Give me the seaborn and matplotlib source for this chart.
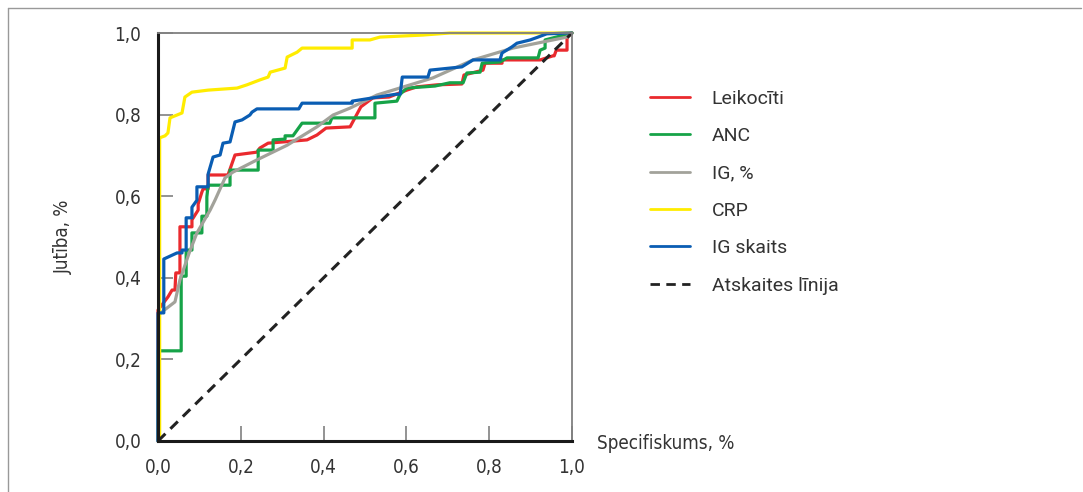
import pandas as pd
import seaborn as sns
import matplotlib.pyplot as plt
from matplotlib.lines import Line2D
from matplotlib import font_manager

# ROC curves (x = specificity axis, y = sensitivity)
leik_x = [0, 0, 0.024, 0.034, 0.041, 0.043, 0.053, 0.053, 0.082, 0.082, 0.097, 0.097, 0.106, 0.109, 0.121, 0.121,
          0.169, 0.186, 0.239, 0.246, 0.266, 0.302, 0.360, 0.384, 0.406, 0.464, 0.490, 0.519, 0.558, 0.601, 0.625,
          0.674, 0.734, 0.739, 0.785, 0.790, 0.831, 0.831, 0.923, 0.954, 0.957, 0.962, 0.988, 0.988, 1.0]
leik_y = [0, 0.321, 0.353, 0.370, 0.370, 0.412, 0.412, 0.525, 0.525, 0.542, 0.566, 0.581, 0.610, 0.618, 0.618, 0.652,
          0.652, 0.701, 0.708, 0.718, 0.730, 0.733, 0.738, 0.750, 0.767, 0.770, 0.819, 0.841, 0.843, 0.860, 0.868,
          0.873, 0.875, 0.897, 0.909, 0.926, 0.926, 0.934, 0.934, 0.944, 0.944, 0.958, 0.958, 0.990, 1.0]

anc_x = [0, 0, 0.056, 0.056, 0.068, 0.068, 0.082, 0.082, 0.106, 0.106, 0.118, 0.118, 0.121, 0.174, 0.174, 0.242,
         0.242, 0.278, 0.278, 0.307, 0.307, 0.326, 0.348, 0.415, 0.420, 0.524, 0.524, 0.577, 0.585, 0.601, 0.669,
         0.705, 0.737, 0.746, 0.778, 0.783, 0.826, 0.843, 0.918, 0.923, 0.935, 0.935, 1.0]
anc_y = [0, 0.221, 0.221, 0.404, 0.404, 0.468, 0.468, 0.510, 0.510, 0.551, 0.551, 0.598, 0.627, 0.627, 0.664, 0.664,
         0.713, 0.713, 0.738, 0.740, 0.748, 0.748, 0.779, 0.779, 0.792, 0.792, 0.828, 0.833, 0.850, 0.865, 0.870,
         0.878, 0.878, 0.902, 0.904, 0.926, 0.929, 0.939, 0.939, 0.958, 0.963, 0.983, 1.0]

igp_x = [0, 0, 0.041, 0.053, 0.075, 0.094, 0.126, 0.138, 0.162, 0.181, 0.239, 0.312, 0.384, 0.423, 0.464, 0.529,
         0.664, 0.761, 0.857, 0.988, 1.0]
igp_y = [0, 0.309, 0.341, 0.395, 0.460, 0.510, 0.566, 0.591, 0.645, 0.659, 0.689, 0.725, 0.770, 0.799, 0.816, 0.848,
         0.890, 0.934, 0.963, 0.990, 1.0]

crp_x = [0.004, 0.004, 0.017, 0.024, 0.029, 0.058, 0.065, 0.082, 0.121, 0.191, 0.215, 0.246, 0.266, 0.271, 0.307,
         0.312, 0.336, 0.348, 0.469, 0.469, 0.512, 0.536, 0.640, 0.705, 1.0]
crp_y = [0, 0.743, 0.748, 0.755, 0.792, 0.804, 0.843, 0.855, 0.860, 0.865, 0.873, 0.885, 0.892, 0.904, 0.914,
         0.941, 0.953, 0.963, 0.963, 0.983, 0.983, 0.990, 0.995, 1.0, 1.0]

igs_x = [0, 0, 0.014, 0.014, 0.046, 0.058, 0.058, 0.068, 0.068, 0.082, 0.082, 0.094, 0.094, 0.121, 0.121, 0.133,
         0.150, 0.157, 0.174, 0.186, 0.203, 0.222, 0.227, 0.239, 0.340, 0.348, 0.469, 0.469, 0.575, 0.585, 0.590,
         0.652, 0.657, 0.734, 0.761, 0.826, 0.831, 0.855, 0.867, 0.899, 0.918, 0.939, 1.0]
igs_y = [0, 0.314, 0.314, 0.446, 0.461, 0.461, 0.468, 0.468, 0.547, 0.547, 0.573, 0.590, 0.623, 0.623, 0.654, 0.696,
         0.701, 0.730, 0.733, 0.782, 0.787, 0.799, 0.806, 0.814, 0.814, 0.828, 0.828, 0.833, 0.850, 0.850, 0.892,
         0.892, 0.909, 0.917, 0.934, 0.934, 0.951, 0.966, 0.975, 0.983, 0.990, 0.998, 1.0]

ref_x = [0, 1]
ref_y = [0, 1]

labels = ["Leikocīti", "ANC", "IG, %", "CRP", "IG skaits", "Atskaites līnija"]
ticks = [0.0, 0.2, 0.4, 0.6, 0.8, 1.0]
tick_labels = ["0,0", "0,2", "0,4", "0,6", "0,8", "1,0"]

sns.set_style("white")

#pick a narrow face for the axis texts if one is around
names = {f.name for f in font_manager.fontManager.ttflist}
if "Liberation Sans Narrow" in names:
    plt.rcParams['font.family'] = ['Liberation Sans Narrow', 'DejaVu Sans']
else:
    plt.rcParams['font.family'] = ['DejaVu Sans']
    plt.rcParams['font.stretch'] = 'condensed'

txt_col = "#333333"
fs = 13.5

fig = plt.figure(figsize=(10.83, 4.92), dpi=100)
ax = fig.add_axes([158 / 1083, 1 - 441 / 492, 414 / 1083, 408 / 492])

#draw the curves (dashed reference line on top)
series = [
    (leik_x, leik_y, "#ea2a2e", labels[0]),
    (anc_x, anc_y, "#16a348", labels[1]),
    (igp_x, igp_y, "#a2a29a", labels[2]),
    (crp_x, crp_y, "#ffec00", labels[3]),
    (igs_x, igs_y, "#0a5db3", labels[4]),
]
for xs, ys, col, lab in series:
    df = pd.DataFrame({"x": xs, "y": ys})
    sns.lineplot(data=df, x="x", y="y", sort=False, estimator=None, color=col, lw=2.3,
                 label=lab, ax=ax, clip_on=False)

ref_df = pd.DataFrame({"x": ref_x, "y": ref_y})
sns.lineplot(data=ref_df, x="x", y="y", sort=False, estimator=None, color="#222222", lw=2.2,
             linestyle=(0, (3.4, 2.3)), label=labels[5], ax=ax, clip_on=False)

ax.set_xlim(0, 1)
ax.set_ylim(0, 1)

#axis styling
for side in ["left", "bottom"]:
    ax.spines[side].set_color("#1a1a1a")
    ax.spines[side].set_linewidth(2.2)
for side in ["top", "right"]:
    ax.spines[side].set_color("#808080")
    ax.spines[side].set_linewidth(1.3)

ax.set_xticks(ticks)
ax.set_xticklabels(tick_labels)
ax.set_yticks(ticks)
ax.set_yticklabels(tick_labels)
ax.tick_params(axis="both", direction="in", length=10.5, width=1.2, color="#808080",
               labelsize=fs, labelcolor=txt_col)
ax.tick_params(axis="x", pad=12, bottom=True)
ax.tick_params(axis="y", pad=12, left=True)

ax.set_ylabel("Jutība, %", fontsize=fs, color=txt_col)
ax.yaxis.set_label_coords(-0.205, 0.5)
ax.set_xlabel("Specifiskums, %", fontsize=fs, color=txt_col)
ax.xaxis.set_label_coords(1 + 25 / 414, -0.005)
ax.xaxis.label.set_ha("left")
ax.xaxis.label.set_va("center")

#legend to the right of the plot
leg = ax.legend(loc="upper left", bbox_to_anchor=(632 / 1083, 1 - 72 / 492), bbox_transform=fig.transFigure,
                frameon=False, handlelength=2.1, handletextpad=1.1, labelspacing=1.0,
                prop={"family": "Roboto", "size": 14})
for t in leg.get_texts():
    t.set_color(txt_col)
for h in leg.get_lines():
    h.set_linewidth(2.0)

#thin outer frame
fig.add_artist(Line2D([7.5 / 1083, 7.5 / 1083], [0, 1 - 7.5 / 492], transform=fig.transFigure,
                      color="#999999", lw=1))
fig.add_artist(Line2D([7.5 / 1083, 1080.5 / 1083], [1 - 7.5 / 492, 1 - 7.5 / 492], transform=fig.transFigure,
                      color="#999999", lw=1))

fig.savefig("out.png", dpi=100)
